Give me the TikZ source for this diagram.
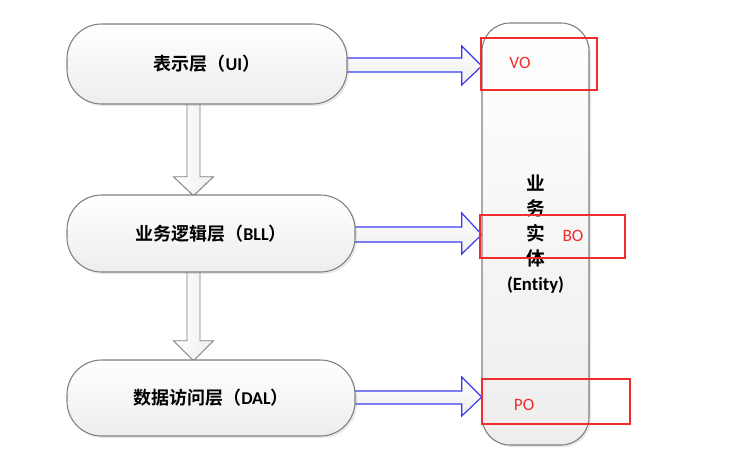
\documentclass[tikz,border=0pt]{standalone}
\usepackage{fontspec}
\setmainfont{Carlito}[Ligatures=NoCommon]
\newfontfamily\cjk{Noto Sans CJK SC}[BoldFont={Noto Sans CJK SC Bold}]
\usetikzlibrary{shadows,calc}
\definecolor{redline}{HTML}{F22C2C}
\definecolor{arrblue}{HTML}{3A3AF5}
\definecolor{boxline}{HTML}{7F7F7F}
\begin{document}
\begin{tikzpicture}[x=0.75pt,y=-0.75pt,
  layerbox/.style={rectangle, rounded corners=26pt, draw=boxline, line width=0.8pt,
    top color=white, bottom color=black!7, inner sep=0pt, minimum height=57.75pt,
    font=\fontsize{13.5}{15}\selectfont\bfseries,
    drop shadow={opacity=0.18, shadow xshift=1.5pt, shadow yshift=-1.5pt}},
  colbox/.style={rectangle, rounded corners=21pt, draw=boxline, line width=0.8pt,
    top color=white, bottom color=black!7, inner sep=0pt,
    drop shadow={opacity=0.18, shadow xshift=1.5pt, shadow yshift=-1.5pt}},
  anchorbox/.style={rectangle, draw=none, inner sep=0pt},
  downarr/.style={draw=boxline, line width=0.7pt, left color=white, right color=black!7},
  rightarr/.style={draw=arrblue, line width=0.9pt, top color=white, bottom color=black!7},
  redrect/.style={rectangle, draw=redline, line width=1.5pt, inner sep=0pt},
  redtext/.style={text=redline, font=\fontsize{13}{15}\selectfont, inner sep=0pt},
  enttext/.style={font=\fontsize{14}{18.75}\selectfont\bfseries, align=center, inner sep=0pt}
]
\useasboundingbox (0,0) rectangle (737,462);

\path (207,64) coordinate (uic) (211,233.5) coordinate (bllc) (211,398) coordinate (dalc)
      (535.5,234) coordinate (entc);

% invisible anchor boxes with the sizes of the real boxes
\node[anchorbox, minimum width=210pt, minimum height=60pt] (uiA) at (uic) {};
\node[anchorbox, minimum width=216pt, minimum height=57.75pt] (bllA) at (bllc) {};
\node[anchorbox, minimum width=216pt, minimum height=57pt] (dalA) at (dalc) {};
\node[anchorbox, minimum width=80.25pt, minimum height=316.5pt] (entA) at (entc) {};

% down block arrows
\coordinate (d1s) at ($(uiA.south)+(-13.5,0)$);
\coordinate (d1e) at (d1s |- bllA.north);
\draw[downarr] ($(d1s)+(-6.5,-6)$) -- ($(d1e)+(-6.5,-18)$) -- ($(d1e)+(-20,-18)$) -- ($(d1e)+(0,1)$)
  -- ($(d1e)+(20,-18)$) -- ($(d1e)+(6.5,-18)$) -- ($(d1s)+(6.5,-6)$) -- cycle;
\coordinate (d2s) at (d1s |- bllA.south);
\coordinate (d2e) at (d1s |- dalA.north);
\draw[downarr] ($(d2s)+(-6.5,-6)$) -- ($(d2e)+(-6.5,-19)$) -- ($(d2e)+(-20,-19)$) -- ($(d2e)+(0,1)$)
  -- ($(d2e)+(20,-19)$) -- ($(d2e)+(6.5,-19)$) -- ($(d2s)+(6.5,-6)$) -- cycle;

% right block arrows
\coordinate (r1e) at (entA.west |- uiA.east);
\draw[rightarr] ($(uiA.east)+(-10,-6)$) -- ($(r1e)+(-20,-6)$) -- ($(r1e)+(-20,-18)$) -- ($(r1e)+(0,2)$)
  -- ($(r1e)+(-20,21)$) -- ($(r1e)+(-20,8)$) -- ($(uiA.east)+(-10,8)$) -- cycle;
\coordinate (r2e) at (entA.west |- bllA.east);
\draw[rightarr] ($(bllA.east)+(-10,-6.5)$) -- ($(r2e)+(-20,-6.5)$) -- ($(r2e)+(-20,-20.5)$) -- ($(r2e)+(0,1)$)
  -- ($(r2e)+(-20,20.5)$) -- ($(r2e)+(-20,8.5)$) -- ($(bllA.east)+(-10,8.5)$) -- cycle;
\coordinate (r3e) at (entA.west |- dalA.east);
\draw[rightarr] ($(dalA.east)+(-10,-7)$) -- ($(r3e)+(-20,-7)$) -- ($(r3e)+(-20,-21)$) -- ($(r3e)+(0,-1)$)
  -- ($(r3e)+(-20,18)$) -- ($(r3e)+(-20,6)$) -- ($(dalA.east)+(-10,6)$) -- cycle;

% layer boxes
\node[layerbox, minimum width=210pt, minimum height=60pt] (ui) at (uic)
  {{\cjk 表示层（}UI{\cjk ）}};
\node[layerbox, minimum width=216pt] (bll) at (bllc)
  {{\cjk 业务逻辑层（}BLL{\cjk ）}};
\node[layerbox, minimum width=216pt, minimum height=57pt] (dal) at (dalc)
  {{\cjk 数据访问层（}DAL{\cjk ）}};

% entity column
\node[colbox, minimum width=80.25pt, minimum height=316.5pt] (ent) at (entc) {};
\node[enttext] (entl) at (ent.center) {{\cjk 业}\\{\cjk 务}\\{\cjk 实}\\{\cjk 体}\\(Entity)};

% red boxes
\node[redrect, minimum width=87pt, minimum height=39pt] (vobox) at (539,64) {};
\node[redtext] (vo) at (520,63) {VO};
\node[redrect, minimum width=108.75pt, minimum height=32.25pt] (bobox) at (552.5,236.5) {};
\node[redtext] (bo) at (573,236) {BO};
\node[redrect, minimum width=111pt, minimum height=33.75pt] (pobox) at (556,401.5) {};
\node[redtext] (po) at (524,405) {PO};
\end{tikzpicture}
\end{document}
